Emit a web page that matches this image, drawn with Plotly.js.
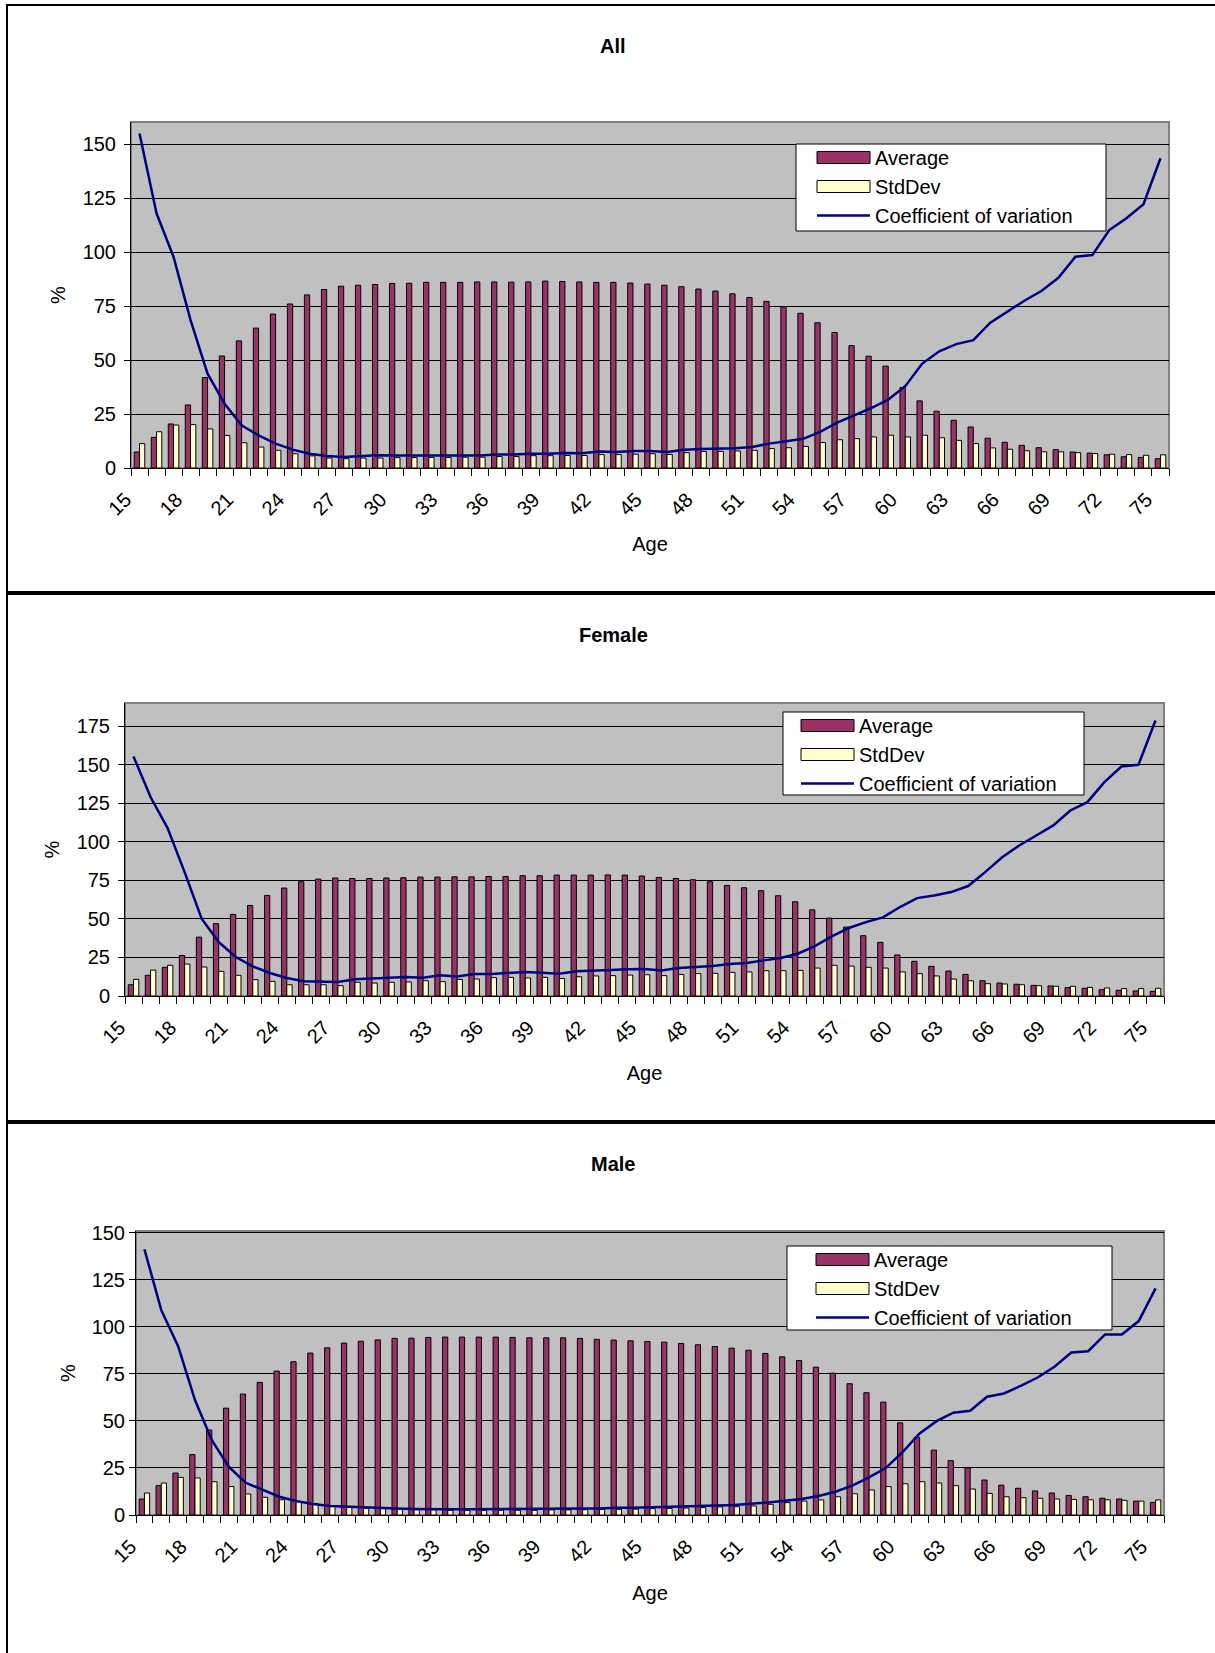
<!DOCTYPE html>
<html>
<head>
<meta charset="utf-8">
<script src="https://cdn.plot.ly/plotly-3.0.1.min.js"></script>
<style>
html, body { margin: 0; padding: 0; background: #ffffff; }
#chart { width: 1215px; height: 1653px; }
</style>
</head>
<body>
<div id="chart"></div>
<script>
// ---------- data ----------
const ages = [15,16,17,18,19,20,21,22,23,24,25,26,27,28,29,30,31,32,33,34,35,36,37,38,39,40,41,42,43,44,45,46,47,48,49,50,51,52,53,54,55,56,57,58,59,60,61,62,63,64,65,66,67,68,69,70,71,72,73,74,75];
const tickAges = [15,18,21,24,27,30,33,36,39,42,45,48,51,54,57,60,63,66,69,72,75];
const tickLabels = ['15','18','21','24','27','30','33','36','39','42','45','48','51','54','57','60','63','66','69','72','75'];
const seriesNames = ['Average', 'StdDev', 'Coefficient of variation'];
const panelTitles = ['All', 'Female', 'Male'];

const allAverage = [7.4,14.2,20.4,29.2,41.9,51.9,58.9,64.8,71.3,76.0,
  80.2,82.7,84.2,84.7,85.0,85.5,85.6,86.0,86.0,86.0,
  86.2,86.2,86.1,86.2,86.6,86.4,86.2,86.0,86.0,85.7,
  85.2,84.7,84.0,82.9,82.0,80.7,79.0,77.2,74.7,71.7,
  67.3,62.8,56.7,51.8,47.2,37.3,31.1,26.3,22.1,19.0,
  13.8,11.9,10.5,9.4,8.5,7.4,6.9,6.1,5.2,4.9,4.3];
const allStdDev = [11.3,16.8,19.9,20.1,18.1,15.1,11.7,9.7,8.2,6.6,
  5.6,4.6,4.3,4.6,4.6,4.8,4.8,4.9,4.9,5.0,
  5.0,5.3,5.3,5.7,5.7,5.8,5.8,6.2,6.2,6.4,
  6.6,6.3,7.1,7.7,7.7,7.9,8.2,9.0,9.4,10.0,
  11.8,13.1,13.6,14.4,15.2,14.4,15.2,14.0,12.8,11.3,
  9.3,8.7,8.0,7.5,7.5,7.1,6.7,6.4,6.2,5.9,6.1];
const allCV = [155.0,118.0,97.8,68.5,43.7,29.8,19.8,15.1,11.3,8.5,
  6.6,5.6,5.1,5.6,5.9,5.8,5.7,5.8,5.8,5.8,
  5.8,6.2,6.2,6.6,6.6,7.0,6.8,7.6,7.4,7.9,
  7.9,7.4,8.5,8.8,8.8,9.1,9.7,11.3,12.4,13.5,
  16.7,21.0,24.4,27.8,31.7,37.9,48.4,54.1,57.4,59.2,
  67.3,72.4,77.5,82.0,88.1,97.9,98.7,110.3,115.7,122.2,143.5];

const femaleAverage = [7.3,13.4,18.6,26.3,38.2,46.9,52.9,58.7,65.2,70.0,
  74.1,75.8,76.5,76.2,76.2,76.5,76.7,77.1,77.1,77.3,
  77.3,77.5,77.5,78.0,78.0,78.4,78.4,78.4,78.5,78.4,
  77.8,76.9,76.2,75.4,74.1,71.7,70.2,68.3,65.0,61.1,
  55.9,50.5,44.7,39.1,34.8,26.6,22.5,19.2,16.2,14.0,
  9.9,8.4,7.6,6.9,6.5,5.4,5.0,4.1,3.7,3.3,3.0];
const femaleStdDev = [10.8,16.8,19.9,20.7,18.8,16.0,13.4,10.6,9.5,7.3,
  7.3,7.3,6.7,8.9,8.4,8.9,9.1,9.9,9.3,10.8,
  11.0,11.9,12.1,11.7,12.1,11.4,12.5,13.0,13.2,13.6,
  13.8,13.2,14.0,14.5,14.7,15.3,15.6,16.4,16.4,16.6,
  18.1,19.9,19.4,18.6,18.1,15.6,14.5,13.0,11.0,9.9,
  8.0,7.8,7.3,6.7,6.3,6.3,5.6,5.2,4.8,4.8,5.0];
const femaleCV = [155.3,129.0,108.9,80.3,50.1,35.0,25.3,19.2,14.9,11.7,
  9.5,9.5,9.1,10.8,11.4,11.7,12.3,11.9,13.4,12.7,
  14.3,14.3,15.1,15.6,15.1,14.5,16.0,16.2,16.8,17.3,
  17.5,16.6,18.1,18.8,19.4,20.7,21.4,23.1,24.6,27.4,
  32.4,38.7,44.1,47.9,51.0,57.7,63.5,65.2,67.4,71.3,
  80.3,90.0,97.6,104.1,110.6,120.3,125.7,138.7,148.8,149.9,178.7];

const maleAverage = [8.5,15.6,22.3,32.1,45.2,56.8,64.3,70.5,76.5,81.5,
  86.1,88.9,91.4,92.4,93.1,93.9,94.0,94.4,94.6,94.6,
  94.6,94.6,94.4,94.2,94.2,94.2,93.9,93.4,93.0,92.6,
  92.2,91.9,91.2,90.5,89.6,88.7,87.6,85.9,84.1,82.1,
  78.6,75.4,69.8,65.0,60.0,49.0,41.3,34.5,28.9,25.1,
  18.6,15.9,14.2,12.8,11.7,10.4,9.7,8.9,8.5,7.4,6.7];
const maleStdDev = [11.7,17.0,20.0,19.7,17.7,15.1,11.2,9.4,8.1,7.1,
  6.0,5.0,4.3,3.5,3.4,3.0,2.8,2.8,2.5,2.5,
  2.5,2.5,2.5,2.5,2.7,2.7,2.8,3.0,3.0,3.1,
  3.4,3.5,3.7,3.9,4.3,4.4,4.8,5.7,6.6,7.4,
  8.0,9.7,11.3,13.3,15.1,16.6,17.7,17.0,15.6,13.8,
  11.5,9.7,9.2,8.9,8.5,8.3,8.1,8.1,7.8,7.4,8.0];
const maleCV = [141.3,108.9,89.8,61.1,39.8,25.7,17.2,13.3,9.7,7.4,
  5.8,4.8,4.4,3.9,3.5,3.4,3.2,3.0,3.0,3.0,
  3.0,3.0,3.0,3.2,3.2,3.2,3.4,3.5,3.9,3.9,
  4.1,4.1,4.3,4.6,5.0,5.3,5.8,6.7,7.6,8.5,
  10.1,12.4,15.6,20.0,25.1,33.6,43.4,49.9,54.4,55.4,
  62.9,64.6,68.7,73.1,78.8,86.4,87.1,96.0,96.0,103.1,120.5];

// ---------- styling ----------
const FONT = 'Arial, "Liberation Sans", Helvetica, sans-serif';
const AVG_COLOR = '#993366';
const SD_COLOR = '#FFFFCC';
const CV_COLOR = '#000080';
const W = 1215, H = 1653;
const SWATCH_W = 53;
const px = v => v / W;
const py = v => 1 - v / H;

function panelTraces(avg, sd, cv, xa, ya, leg) {
  return [
    { type: 'bar', name: seriesNames[0], x: ages, y: avg, xaxis: xa, yaxis: ya, legend: leg,
      marker: { color: AVG_COLOR, line: { color: '#000000', width: 1 } } },
    { type: 'bar', name: seriesNames[1], x: ages, y: sd, xaxis: xa, yaxis: ya, legend: leg,
      marker: { color: SD_COLOR, line: { color: '#000000', width: 1 } } },
    { type: 'scatter', mode: 'lines', name: seriesNames[2], x: ages, y: cv, xaxis: xa, yaxis: ya, legend: leg,
      line: { color: CV_COLOR, width: 2.5 } }
  ];
}

const data = [].concat(
  panelTraces(allAverage, allStdDev, allCV, 'x', 'y', 'legend'),
  panelTraces(femaleAverage, femaleStdDev, femaleCV, 'x2', 'y2', 'legend2'),
  panelTraces(maleAverage, maleStdDev, maleCV, 'x3', 'y3', 'legend3')
);

function xAxis(domain, anchor, titleStandoff) {
  return {
    domain: domain, anchor: anchor, range: [14.5, 75.5],
    tickmode: 'array', tickvals: tickAges, ticktext: tickLabels, tickangle: -45,
    ticks: '', showgrid: false, zeroline: false,
    showline: true, linecolor: '#000000', linewidth: 1,
    tickfont: { family: FONT, size: 20, color: '#000' },
    ticklabelstandoff: 11,
    ticklabelshift: -14,
    minor: { tickmode: 'linear', tick0: 14.5, dtick: 1, ticks: 'outside', ticklen: 7, tickwidth: 1, tickcolor: '#000000', showgrid: false },
    title: { text: 'Age', font: { family: FONT, size: 20, color: '#000' }, standoff: titleStandoff }
  };
}
function yAxis(domain, anchor, top, labelStandoff, titleStandoff) {
  return {
    domain: domain, anchor: anchor, range: [0, top],
    tickmode: 'linear', tick0: 0, dtick: 25,
    ticks: 'outside', ticklen: 6, tickwidth: 1, tickcolor: '#000000',
    showgrid: true, gridcolor: '#000000', gridwidth: 1, zeroline: false,
    showline: true, linecolor: '#000000', linewidth: 1,
    tickfont: { family: FONT, size: 20, color: '#000' },
    ticklabelstandoff: labelStandoff,
    title: { text: '%', font: { family: FONT, size: 20, color: '#000' }, standoff: titleStandoff }
  };
}
function legendAt(x, y) {
  return { x: px(x), y: py(y), xanchor: 'left', yanchor: 'top',
    bgcolor: 'rgba(0,0,0,0)', borderwidth: 0,
    font: { family: FONT, size: 20, color: '#000' }, itemwidth: SWATCH_W, traceorder: 'normal' };
}
function legendFrame(x0, y0, x1, y1) {
  return { type: 'rect', xref: 'paper', yref: 'paper', x0: px(x0), x1: px(x1), y0: py(y1), y1: py(y0),
    fillcolor: '#ffffff', line: { color: '#000000', width: 1 }, layer: 'above' };
}
function plotBorder(xr, yr) {
  return { type: 'rect', xref: xr + ' domain', yref: yr + ' domain', x0: 0, x1: 1, y0: 0, y1: 1,
    line: { color: '#808080', width: 2 }, layer: 'below' };
}
function titleAnn(text, x, y) {
  return { text: '<b>' + text + '</b>', xref: 'paper', yref: 'paper', x: px(x), y: py(y),
    xanchor: 'center', yanchor: 'middle', showarrow: false,
    font: { family: FONT, size: 20, color: '#000' } };
}

const layout = {
  width: W, height: H,
  margin: { l: 0, r: 0, t: 0, b: 0 },
  paper_bgcolor: '#ffffff', plot_bgcolor: '#C0C0C0',
  font: { family: FONT, size: 20, color: '#000000' },
  barmode: 'group', bargap: 0.38, bargroupgap: 0,
  showlegend: true,
  xaxis:  xAxis([px(131), px(1169)], 'y', 18),
  yaxis:  yAxis([py(468), py(122)], 'x', 160.3, 4, 11),
  xaxis2: xAxis([px(125), px(1164)], 'y2', 19),
  yaxis2: yAxis([py(996), py(703)], 'x2', 190, 4, 11),
  xaxis3: xAxis([px(136), px(1164)], 'y3', 20),
  yaxis3: yAxis([py(1515), py(1231)], 'x3', 151, 0, 10),
  legend:  legendAt(812, 138),
  legend2: legendAt(796, 706),
  legend3: legendAt(811, 1240),
  annotations: [
    titleAnn(panelTitles[0], 613, 46),
    titleAnn(panelTitles[1], 613, 635),
    titleAnn(panelTitles[2], 613, 1164)
  ],
  shapes: [
    plotBorder('x', 'y'), plotBorder('x2', 'y2'), plotBorder('x3', 'y3'),
    legendFrame(796, 144, 1106, 231),
    legendFrame(783, 712, 1084, 795),
    legendFrame(787, 1246, 1112, 1330),
    { type: 'line', xref: 'paper', yref: 'paper', x0: px(7), x1: px(1225), y0: py(5), y1: py(5), line: { color: '#000', width: 2 } },
    { type: 'line', xref: 'paper', yref: 'paper', x0: px(7), x1: px(7), y0: py(4), y1: py(1660), line: { color: '#000', width: 2 } },
    { type: 'line', xref: 'paper', yref: 'paper', x0: px(7), x1: px(1225), y0: py(593), y1: py(593), line: { color: '#000', width: 4 } },
    { type: 'line', xref: 'paper', yref: 'paper', x0: px(7), x1: px(1225), y0: py(1122), y1: py(1122), line: { color: '#000', width: 4 } }
  ]
};

// widen the square bar swatches in the legends into Excel-style wide boxes
function widenLegendSwatches(gd) {
  gd.querySelectorAll('.legendpoints path').forEach(function (p) {
    if (p.classList.contains('js-line')) return;
    if (p.getAttribute('data-wide') === '1') return;
    let bb;
    try { bb = p.getBBox(); } catch (e) { return; }
    if (bb.width < 8 || bb.width > 16 || bb.height < 8 || bb.height > 16) return;
    const cx = bb.x + bb.width / 2, cy = bb.y + bb.height / 2;
    p.setAttribute('d', 'M' + (cx - SWATCH_W / 2) + ',' + (cy + 6) + 'h' + SWATCH_W + 'v-12h' + (-SWATCH_W) + 'Z');
    p.setAttribute('data-wide', '1');
  });
}

Plotly.newPlot('chart', data, layout, { staticPlot: true, displayModeBar: false }).then(function (gd) {
  widenLegendSwatches(gd);
  setTimeout(function () { widenLegendSwatches(gd); }, 30);
});
</script>
</body>
</html>
